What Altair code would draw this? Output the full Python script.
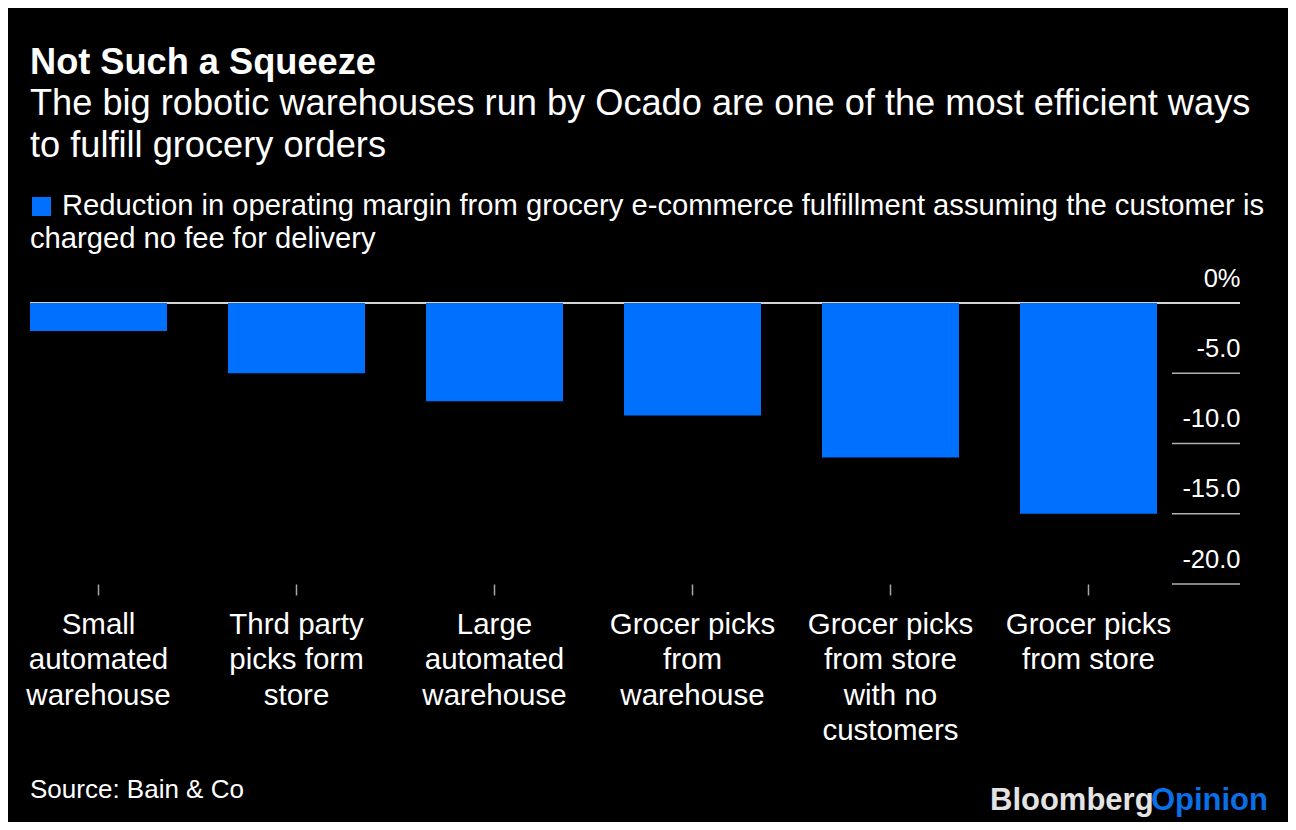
import altair as alt
import pandas as pd

# ---- data ----
categories = [
    "Small|automated|warehouse",
    "Thrd party|picks form|store",
    "Large|automated|warehouse",
    "Grocer picks|from|warehouse",
    "Grocer picks|from store|with no|customers",
    "Grocer picks|from store",
]
values = [-2.0, -5.0, -7.0, -8.0, -11.0, -15.0]
y_ticks = [0, -5, -10, -15, -20]
short_grid = [-5, -10, -15, -20]

title_text = "Not Such a Squeeze"
subtitle_lines = [
    "The big robotic warehouses run by Ocado are one of the most efficient ways",
    "to fulfill grocery orders",
]
legend_lines = [
    "Reduction in operating margin from grocery e-commerce fulfillment assuming the customer is",
    "charged no fee for delivery",
]
source_text = "Source: Bain & Co"
logo_a = "Bloomberg"
logo_b = "Opinion"

FONT = "Liberation Sans"
BLUE = "#0070FF"

df = pd.DataFrame({"category": categories, "value": values})

yscale = alt.Scale(domain=[-20, 0], nice=False)
y_axis = alt.Axis(
    title=None, orient="right", values=y_ticks, domain=False, ticks=False,
    tickSize=0, labelPadding=0, labelAlign="right", labelBaseline="alphabetic",
    labelBound=False, labelFlush=False, labelOffset=-17, labelOverlap=False,
    labelExpr="datum.value == 0 ? '0%' : '-' + format(abs(datum.value), '.1f')",
    labelFont=FONT, labelFontSize=25.5, labelColor="white", grid=False,
)

zero_rule = alt.Chart(pd.DataFrame({"value": [0]})).mark_rule(
    color="#d4d4d4", strokeWidth=2
).encode(y=alt.Y("value:Q", scale=yscale, axis=y_axis), x=alt.value(0), x2=alt.value(1210))

short_rules = alt.Chart(pd.DataFrame({"value": short_grid})).mark_rule(
    color="#b0b0b0", strokeWidth=1.5
).encode(y=alt.Y("value:Q", scale=yscale, axis=y_axis), x=alt.value(1142), x2=alt.value(1210))

bars = alt.Chart(df).mark_bar(color=BLUE).encode(
    x=alt.X(
        "category:N",
        sort=None,
        scale=alt.Scale(range=[0, 1127], paddingInner=0.308, paddingOuter=0),
        axis=alt.Axis(
            title=None, orient="bottom", domain=False, ticks=True, tickSize=11,
            tickColor="#a6a6a6", tickWidth=1.5, labelAngle=0,
            labelExpr="split(datum.label, '|')", labelFont=FONT, labelFontSize=29.5,
            labelColor="white", labelPadding=38, labelLineHeight=35.5,
            labelBaseline="alphabetic", grid=False,
        ),
    ),
    y=alt.Y("value:Q", scale=yscale, axis=y_axis),
    y2=alt.datum(0),
)


def text_layer(txt, x, y, size, weight="normal", color="white", align="left", line_height=None):
    kw = dict(font=FONT, fontSize=size, fontWeight=weight, color=color, align=align,
              baseline="alphabetic", lineBreak="\n")
    if line_height:
        kw["lineHeight"] = line_height
    return alt.Chart(pd.DataFrame({"t": [txt]})).mark_text(**kw).encode(
        text="t:N", x=alt.value(x), y=alt.value(y)
    )


title_l = text_layer(title_text, 0, -229, 36.2, weight="bold")
subtitle_l = text_layer("\n".join(subtitle_lines), 0, -188, 36.2, line_height=41.5)
legend_sq = alt.Chart(pd.DataFrame({"s": [1]})).mark_rect(color=BLUE).encode(
    x=alt.value(2), x2=alt.value(21), y=alt.value(-106), y2=alt.value(-87)
)
legend_1 = text_layer(legend_lines[0], 32, -88, 29.2)
legend_2 = text_layer(legend_lines[1], 0, -55, 29.2)
source_l = text_layer(source_text, 0, 495, 26)
logo_1 = text_layer(logo_a, 960, 507, 31, weight="bold", color="#e3e3e3")
logo_2 = text_layer(logo_b, 1238, 507, 31, weight="bold", color="#0b6fe6", align="right")

chart = alt.layer(
    zero_rule, short_rules, bars, title_l, subtitle_l, legend_sq, legend_1, legend_2,
    source_l, logo_1, logo_2,
).properties(
    width=1210,
    height=281,
    autosize=alt.AutoSizeParams(type="none"),
    padding={"left": 22, "top": 295, "right": 48, "bottom": 238},
    background="black",
).configure_view(strokeWidth=0)

chart.save("out.html", embed_options={"renderer": "svg", "actions": False})
